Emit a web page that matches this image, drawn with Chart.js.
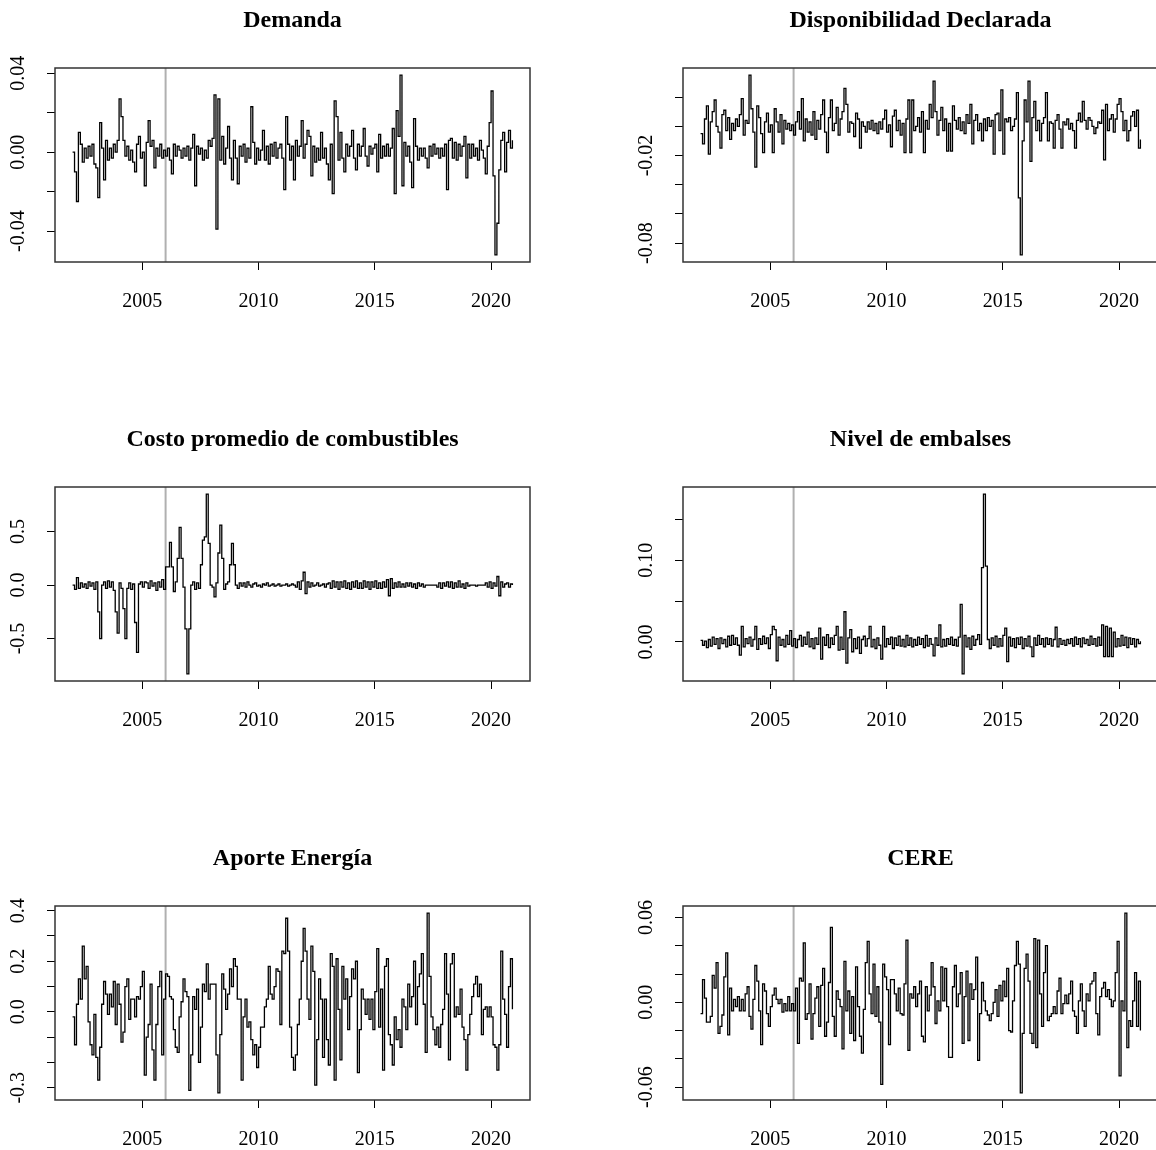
<!DOCTYPE html>
<html>
<head>
<meta charset="utf-8">
<script src="https://cdn.jsdelivr.net/npm/chart.js@4.4.1/dist/chart.umd.min.js"></script>
<style>
  html, body { margin: 0; padding: 0; background: #fff; overflow: hidden; }
  body { width: 1156px; height: 1150px; position: relative; }
  .panel { position: absolute; width: 585px; height: 419px; }
</style>
</head>
<body>
<div class="panel" style="left:0;top:0"><canvas id="demanda" width="585" height="419"></canvas></div>
<div class="panel" style="left:628px;top:0"><canvas id="disponibilidad" width="585" height="419"></canvas></div>
<div class="panel" style="left:0;top:419px"><canvas id="costo" width="585" height="419"></canvas></div>
<div class="panel" style="left:628px;top:419px"><canvas id="embalses" width="585" height="419"></canvas></div>
<div class="panel" style="left:0;top:838px"><canvas id="aporte" width="585" height="419"></canvas></div>
<div class="panel" style="left:628px;top:838px"><canvas id="cere" width="585" height="419"></canvas></div>
<script>
// monthly series, Jan 2002 - Dec 2020
var startYear = 2002;
var yearTicks = [2005, 2010, 2015, 2020];
var breakYear = 2006;

var demanda = [
    0.000, -0.010, -0.025, 0.010, 0.004, -0.005, 0.002, -0.003, 0.003, -0.002, 0.004, -0.006,
    -0.008, -0.023, 0.015, 0.002, -0.014, 0.006, -0.004, 0.002, -0.003, 0.004, 0.000, 0.006,
    0.027, 0.018, 0.006, -0.002, 0.003, -0.004, 0.001, -0.005, -0.010, 0.004, 0.008, -0.003,
    0.000, -0.017, 0.005, 0.016, 0.003, 0.006, -0.008, 0.002, -0.002, 0.004, -0.003, 0.001,
    -0.002, 0.002, -0.004, -0.011, 0.004, -0.002, 0.003, 0.001, -0.003, 0.002, -0.002, 0.003,
    -0.004, 0.002, 0.009, -0.017, 0.003, -0.001, 0.002, -0.004, 0.001, -0.003, 0.006, 0.003,
    0.007, 0.029, -0.039, 0.027, -0.004, 0.008, -0.006, 0.002, 0.013, -0.003, -0.014, 0.006,
    -0.003, -0.016, 0.003, -0.002, 0.004, -0.005, 0.002, -0.003, 0.023, 0.005, -0.006, 0.002,
    -0.004, 0.001, 0.011, -0.004, 0.003, -0.006, 0.004, -0.002, 0.005, -0.003, 0.002, 0.004,
    -0.003, -0.019, 0.018, 0.004, -0.004, 0.003, -0.014, 0.006, -0.002, 0.003, 0.016, -0.003,
    0.004, 0.011, 0.008, -0.012, 0.003, -0.005, 0.002, -0.004, 0.010, -0.003, 0.002, -0.006,
    -0.014, 0.004, -0.021, 0.026, 0.018, -0.004, 0.010, -0.003, -0.010, 0.004, -0.002, 0.003,
    0.011, -0.003, -0.009, 0.004, -0.002, 0.003, 0.012, -0.002, -0.007, 0.003, -0.001, 0.002,
    0.004, -0.010, 0.009, -0.003, 0.003, -0.002, 0.004, -0.002, 0.002, 0.012, -0.021, 0.021,
    0.008, 0.039, -0.017, 0.005, -0.002, 0.003, -0.005, -0.018, 0.017, 0.003, -0.004, 0.002,
    -0.002, 0.002, -0.003, -0.008, 0.003, -0.002, 0.004, -0.001, 0.002, -0.003, 0.002, -0.002,
    0.004, -0.019, 0.006, 0.007, -0.003, 0.005, -0.004, 0.004, -0.002, 0.003, 0.008, -0.013,
    0.004, -0.003, 0.004, -0.002, 0.002, -0.004, 0.006, 0.001, -0.003, -0.011, 0.003, 0.015,
    0.031, -0.012, -0.052, -0.036, -0.009, 0.006, 0.010, -0.010, 0.005, 0.011, 0.002, 0.006
];

var disponibilidad = [
    -0.005, -0.012, 0.005, 0.014, -0.019, 0.003, 0.010, 0.018, 0.000, -0.004, -0.015, 0.008,
    0.011, -0.003, 0.006, -0.009, 0.002, -0.003, 0.005, 0.000, 0.008, 0.019, -0.006, 0.004,
    0.002, 0.035, 0.012, -0.004, -0.028, 0.014, 0.006, -0.005, -0.018, 0.003, 0.009, -0.004,
    0.001, -0.018, 0.012, 0.003, -0.004, 0.008, -0.012, 0.004, -0.002, 0.002, -0.003, 0.001,
    -0.006, 0.003, 0.010, -0.002, 0.019, -0.010, 0.005, -0.004, 0.003, -0.006, 0.010, -0.009,
    0.004, -0.002, 0.008, 0.018, -0.004, -0.018, 0.006, 0.018, -0.003, 0.002, 0.013, -0.006,
    0.005, 0.010, 0.026, 0.015, -0.004, 0.003, 0.002, -0.007, 0.009, 0.005, -0.015, 0.003,
    0.000, -0.004, 0.003, -0.002, 0.004, -0.003, 0.002, -0.005, 0.003, -0.002, 0.005, 0.011,
    -0.004, 0.001, -0.014, 0.007, 0.011, -0.003, 0.004, -0.006, 0.002, -0.018, 0.005, 0.018,
    -0.018, 0.018, -0.003, 0.000, 0.006, -0.004, 0.010, -0.018, 0.004, -0.002, 0.015, 0.006,
    0.031, 0.010, -0.006, 0.004, 0.013, -0.003, 0.005, -0.017, 0.002, -0.017, 0.014, 0.004,
    -0.002, 0.006, -0.003, 0.003, -0.005, 0.008, 0.002, 0.015, -0.012, 0.004, 0.008, -0.003,
    0.002, -0.010, 0.005, -0.003, 0.006, 0.000, 0.004, -0.019, 0.008, 0.009, -0.003, 0.025,
    -0.019, 0.005, 0.003, 0.006, -0.003, 0.000, 0.005, 0.023, -0.049, -0.088, -0.010, 0.018,
    0.003, 0.031, -0.024, 0.006, 0.017, -0.003, 0.004, -0.010, 0.002, 0.006, 0.023, -0.010,
    0.003, 0.002, -0.015, 0.004, 0.008, -0.002, -0.015, 0.003, 0.001, 0.005, -0.002, 0.002,
    -0.003, -0.015, 0.004, 0.009, 0.003, 0.017, 0.004, -0.002, 0.006, 0.004, 0.000, -0.005,
    -0.001, 0.003, 0.002, 0.011, -0.023, 0.015, -0.003, 0.005, 0.008, -0.004, 0.005, 0.015,
    0.019, 0.010, -0.003, 0.004, -0.010, -0.003, 0.007, 0.010, 0.000, 0.011, -0.015, -0.009
];

var costoCombustibles = [
    0.00, -0.04, 0.07, -0.03, 0.02, -0.02, 0.01, -0.03, 0.03, -0.01, 0.02, -0.04,
    0.03, -0.25, -0.50, 0.00, 0.03, -0.03, 0.04, -0.02, 0.03, -0.05, -0.25, -0.45,
    0.02, -0.03, -0.22, -0.50, -0.03, 0.02, -0.04, 0.01, -0.35, -0.63, 0.01, 0.03,
    -0.02, 0.03, 0.02, -0.03, 0.04, -0.01, 0.02, -0.05, 0.03, -0.02, 0.05, -0.04,
    0.17, 0.17, 0.40, 0.17, -0.06, 0.03, 0.25, 0.54, 0.25, -0.02, -0.41, -0.83,
    -0.41, 0.00, 0.03, -0.04, 0.02, -0.03, 0.19, 0.42, 0.45, 0.85, 0.39, 0.00,
    -0.02, -0.11, 0.02, 0.30, 0.56, 0.25, -0.04, 0.01, 0.03, 0.19, 0.39, 0.19,
    0.00, -0.03, 0.02, -0.01, 0.02, -0.02, 0.03, 0.00, -0.02, 0.01, 0.02, -0.01,
    0.00, -0.02, 0.01, 0.00, 0.02, -0.01, 0.00, 0.01, -0.01, 0.00, 0.01, -0.01,
    0.00, 0.00, 0.01, -0.01, 0.00, 0.01, 0.00, -0.02, 0.03, -0.04, 0.04, 0.12,
    -0.08, 0.03, -0.02, 0.02, -0.01, 0.00, 0.02, -0.01, 0.00, 0.01, -0.02, 0.01,
    0.02, -0.03, 0.04, -0.02, 0.03, -0.04, 0.03, -0.02, 0.04, -0.03, 0.02, -0.04,
    0.03, -0.02, 0.04, -0.03, 0.02, -0.03, 0.04, -0.02, 0.03, -0.04, 0.03, -0.02,
    0.04, -0.03, 0.02, -0.03, 0.03, -0.02, 0.05, -0.10, 0.06, -0.03, 0.02, -0.02,
    0.03, -0.02, 0.01, -0.02, 0.02, -0.01, 0.02, -0.02, 0.01, -0.03, 0.02, -0.01,
    0.01, -0.02, 0.00, 0.00, 0.00, 0.00, 0.00, 0.00, -0.02, 0.02, -0.03, 0.02,
    -0.01, 0.03, -0.02, 0.03, -0.03, 0.02, -0.02, 0.04, -0.02, 0.01, -0.03, 0.02,
    -0.01, 0.00, 0.00, 0.00, -0.01, 0.00, 0.00, 0.00, 0.00, 0.02, -0.02, 0.03,
    -0.03, 0.02, -0.01, 0.08, -0.10, 0.03, -0.02, 0.01, 0.02, -0.02, 0.01, 0.00
];

var nivelEmbalses = [
    0.002, -0.004, 0.001, -0.007, 0.003, -0.005, 0.006, -0.003, 0.004, -0.008, 0.005, -0.002,
    0.003, -0.006, 0.007, -0.004, 0.008, -0.003, 0.005, -0.004, -0.016, 0.019, -0.006, 0.004,
    -0.002, 0.006, -0.005, 0.003, 0.019, -0.009, 0.004, -0.003, 0.007, -0.002, 0.005, -0.008,
    0.009, 0.019, 0.015, -0.023, 0.006, -0.004, 0.003, -0.006, 0.008, -0.003, 0.014, -0.005,
    0.004, -0.007, 0.003, 0.008, -0.005, 0.006, -0.003, 0.012, -0.006, 0.004, -0.008, 0.005,
    -0.003, 0.017, -0.021, 0.006, -0.004, 0.009, -0.007, 0.005, -0.003, 0.008, 0.019, -0.010,
    0.006, -0.009, 0.037, -0.026, 0.005, 0.015, -0.012, 0.004, -0.008, 0.006, -0.014, 0.003,
    0.007, -0.005, 0.004, 0.019, -0.006, 0.003, -0.008, 0.005, -0.004, -0.021, 0.019, -0.006,
    0.004, -0.003, 0.006, -0.008, 0.005, -0.004, 0.007, -0.005, 0.003, -0.006, 0.008, -0.004,
    0.005, -0.006, 0.003, -0.004, 0.006, -0.003, 0.004, -0.007, 0.008, -0.005, 0.004, -0.003,
    -0.017, 0.005, -0.004, 0.021, -0.006, 0.003, -0.005, 0.004, -0.003, 0.006, -0.004, 0.003,
    -0.005, 0.006, 0.046, -0.039, 0.008, -0.006, 0.005, -0.009, 0.007, -0.004, 0.003, 0.009,
    -0.003, 0.091, 0.181, 0.093, 0.003, -0.008, 0.005, -0.004, 0.007, -0.006, 0.004, -0.005,
    0.008, 0.017, -0.024, 0.006, -0.005, 0.004, -0.007, 0.005, -0.003, 0.006, -0.008, 0.004,
    -0.005, 0.007, -0.006, -0.018, 0.005, -0.004, 0.008, -0.003, 0.004, -0.006, 0.005, -0.003,
    0.004, -0.005, 0.003, 0.018, -0.006, 0.004, -0.003, 0.002, -0.004, 0.003, -0.002, 0.004,
    -0.005, 0.006, -0.003, 0.004, -0.006, 0.005, -0.002, 0.003, -0.004, 0.007, -0.003, 0.004,
    -0.005, 0.006, -0.004, 0.021, -0.018, 0.019, -0.018, 0.017, -0.018, 0.012, -0.006, 0.004,
    -0.005, 0.008, -0.004, 0.006, -0.007, 0.005, -0.003, 0.004, -0.006, 0.003, -0.002, 0.001
];

var aporteEnergia = [
    -0.02, -0.13, 0.03, 0.13, 0.05, 0.26, 0.13, 0.18, -0.04, -0.13, -0.17, -0.01,
    -0.18, -0.27, -0.14, 0.03, 0.12, 0.07, -0.01, 0.07, 0.02, 0.12, -0.05, 0.11,
    0.03, -0.12, -0.08, 0.10, 0.13, -0.03, 0.05, 0.05, -0.02, 0.06, 0.05, 0.10,
    0.16, -0.25, -0.10, -0.05, 0.11, -0.15, -0.27, -0.05, 0.10, 0.16, -0.17, 0.05,
    0.15, 0.14, 0.06, 0.05, -0.07, -0.14, -0.16, -0.02, 0.04, 0.13, 0.08, 0.06,
    -0.31, -0.17, 0.06, 0.01, 0.09, -0.20, -0.06, 0.11, 0.08, 0.19, 0.05, 0.11,
    0.11, 0.11, -0.17, -0.32, -0.09, 0.15, 0.09, 0.01, 0.07, 0.17, 0.10, 0.21,
    0.18, 0.05, 0.05, -0.27, -0.02, 0.05, -0.06, -0.04, -0.11, -0.17, -0.13, -0.22,
    -0.14, -0.06, -0.06, 0.02, 0.05, 0.18, 0.07, 0.05, 0.10, 0.17, 0.16, -0.05,
    0.24, 0.23, 0.37, 0.24, -0.06, -0.18, -0.23, -0.17, -0.05, 0.05, 0.20, 0.33,
    0.24, 0.05, -0.03, 0.26, 0.16, -0.29, -0.11, 0.13, 0.05, -0.18, 0.05, -0.11,
    -0.21, 0.23, 0.18, -0.27, 0.21, 0.01, -0.19, 0.18, 0.05, 0.13, -0.07, 0.06,
    0.17, 0.13, 0.20, -0.24, -0.07, 0.09, 0.05, -0.01, 0.05, -0.03, 0.05, -0.07,
    0.08, 0.25, -0.06, 0.09, -0.23, 0.18, 0.21, -0.09, -0.13, -0.21, -0.02, -0.11,
    -0.07, -0.14, 0.05, 0.02, -0.07, 0.11, 0.02, 0.06, 0.20, -0.05, 0.10, 0.15,
    0.23, 0.03, -0.16, 0.39, 0.14, -0.02, -0.07, -0.13, -0.06, -0.14, -0.05, 0.01,
    0.23, 0.07, -0.19, 0.19, 0.23, -0.02, 0.02, -0.01, 0.09, -0.06, -0.11, -0.23,
    -0.09, -0.01, 0.06, 0.11, 0.14, 0.06, 0.11, -0.09, 0.01, 0.02, -0.02, 0.02,
    -0.02, -0.13, -0.14, -0.23, -0.13, 0.24, 0.05, -0.01, -0.14, 0.10, 0.21, 0.01
];

var cere = [
    -0.008, 0.016, 0.003, -0.014, -0.014, -0.010, 0.019, 0.010, 0.028, -0.022, -0.017, -0.009,
    0.018, 0.035, -0.023, 0.010, -0.006, 0.002, -0.003, 0.004, -0.006, 0.002, -0.006, 0.006,
    0.011, -0.010, -0.019, 0.002, 0.026, 0.015, -0.006, -0.030, 0.013, 0.008, -0.008, -0.017,
    -0.003, 0.005, 0.010, 0.002, -0.001, 0.002, -0.007, -0.001, -0.006, 0.004, -0.006, -0.001,
    -0.006, 0.010, -0.029, 0.017, 0.015, 0.042, -0.012, -0.008, 0.013, -0.026, -0.008, 0.003,
    0.011, -0.017, 0.012, 0.024, -0.024, -0.014, 0.014, 0.053, -0.010, -0.024, 0.008, 0.002,
    -0.003, -0.033, 0.029, -0.006, 0.008, -0.022, 0.004, -0.027, 0.025, -0.003, -0.024, -0.036,
    -0.005, 0.028, 0.043, 0.006, -0.008, 0.027, -0.010, 0.011, -0.014, -0.058, 0.027, 0.018,
    0.009, -0.030, 0.016, 0.016, 0.006, -0.006, 0.010, -0.008, -0.009, 0.013, 0.044, -0.034,
    0.006, 0.003, 0.011, -0.003, 0.006, 0.015, -0.024, -0.028, 0.011, -0.006, 0.005, 0.028,
    0.011, -0.015, 0.001, -0.006, 0.025, 0.001, 0.024, -0.003, -0.039, -0.039, 0.011, 0.026,
    -0.003, 0.006, 0.021, -0.029, 0.004, 0.022, -0.027, 0.013, 0.002, 0.009, 0.032, -0.041,
    -0.008, 0.014, 0.001, -0.006, -0.009, -0.013, -0.008, 0.000, 0.009, -0.010, 0.012, 0.001,
    0.015, 0.004, 0.024, -0.020, -0.021, 0.001, 0.026, 0.043, 0.027, -0.064, -0.022, 0.024,
    0.034, 0.015, -0.022, -0.029, 0.045, -0.032, 0.044, 0.006, -0.017, 0.021, 0.040, -0.013,
    -0.010, -0.008, -0.003, -0.008, 0.008, 0.017, -0.008, -0.001, 0.005, -0.001, 0.006, 0.015,
    -0.006, -0.010, -0.022, 0.001, 0.013, -0.006, -0.017, 0.006, 0.001, 0.013, 0.015, 0.021,
    -0.008, -0.023, 0.004, 0.010, 0.014, 0.004, 0.009, 0.002, -0.003, 0.001, 0.021, 0.043,
    -0.052, 0.001, -0.006, 0.063, -0.032, -0.013, -0.017, 0.001, 0.021, -0.017, 0.015, -0.020
];

// y ticks and the labels R kept (empty = tick without label)
var demandaTicks = [-0.04, -0.02, 0, 0.02, 0.04];
var demandaLabels = ['-0.04', '', '0.00', '', '0.04'];
var disponibilidadTicks = [-0.08, -0.06, -0.04, -0.02, 0, 0.02];
var disponibilidadLabels = ['-0.08', '', '', '-0.02', '', ''];
var costoTicks = [-0.5, 0, 0.5];
var costoLabels = ['-0.5', '0.0', '0.5'];
var embalsesTicks = [0, 0.05, 0.10, 0.15];
var embalsesLabels = ['0.00', '', '0.10', ''];
var aporteTicks = [-0.3, -0.2, -0.1, 0, 0.1, 0.2, 0.3, 0.4];
var aporteLabels = ['-0.3', '', '', '0.0', '', '0.2', '', '0.4'];
var cereTicks = [-0.06, -0.04, -0.02, 0, 0.02, 0.04, 0.06];
var cereLabels = ['-0.06', '', '', '0.00', '', '', '0.06'];

var fontFamily = "'Liberation Serif', 'Times New Roman', serif";

// box around the plot, the grey 2006 line and the rotated y labels
var rFrame = {
    id: 'rFrame',
    beforeDatasetsDraw: function (chart) {
        var a = chart.chartArea, ctx = chart.ctx;
        var x = chart.scales.x.getPixelForValue(breakYear);
        ctx.save();
        ctx.strokeStyle = '#b0b0b0';
        ctx.lineWidth = 2;
        ctx.beginPath();
        ctx.moveTo(x, a.top);
        ctx.lineTo(x, a.bottom);
        ctx.stroke();
        ctx.restore();
    },
    afterDraw: function (chart, args, opts) {
        var a = chart.chartArea, ctx = chart.ctx, ys = chart.scales.y;
        ctx.save();
        ctx.strokeStyle = '#333';
        ctx.lineWidth = 1.5;
        ctx.strokeRect(a.left, a.top, a.right - a.left, a.bottom - a.top);
        ctx.fillStyle = '#000';
        ctx.font = '20px ' + fontFamily;
        ctx.textAlign = 'center';
        ctx.textBaseline = 'middle';
        opts.ticks.forEach(function (v, i) {
            if (!opts.labels[i]) return;
            ctx.save();
            ctx.translate(a.left - 36, ys.getPixelForValue(v));
            ctx.rotate(-Math.PI / 2);
            ctx.fillText(opts.labels[i], 0, 0);
            ctx.restore();
        });
        ctx.restore();
    }
};

function createPanel(id, title, values, yTicks, yLabels) {
    var points = values.map(function (v, i) {
        return { x: startYear + i / 12, y: v };
    });
    var lo = Math.min.apply(null, values), hi = Math.max.apply(null, values);
    var yPad = (hi - lo) * 0.04;
    var xLo = startYear, xHi = startYear + (values.length - 1) / 12;
    var xPad = (xHi - xLo) * 0.04;

    new Chart(document.getElementById(id), {
        type: 'line',
        data: {
            datasets: [{
                data: points,
                borderColor: '#000',
                borderWidth: 1.3,
                pointRadius: 0,
                stepped: true, // R type = "s"
                fill: false
            }]
        },
        options: {
            responsive: false,
            animation: false,
            devicePixelRatio: 1,
            layout: { padding: { left: 0, right: 55, top: 0, bottom: 0 } },
            plugins: {
                legend: { display: false },
                tooltip: { enabled: false },
                title: {
                    display: true,
                    text: title,
                    fullSize: false,
                    color: '#000',
                    font: { family: fontFamily, size: 24, weight: 'bold', lineHeight: 1.2 },
                    padding: { top: 6, bottom: 33.2 }
                },
                rFrame: { ticks: yTicks, labels: yLabels }
            },
            scales: {
                x: {
                    type: 'linear',
                    min: xLo - xPad,
                    max: xHi + xPad,
                    afterBuildTicks: function (axis) {
                        axis.ticks = yearTicks.map(function (v) { return { value: v }; });
                    },
                    afterFit: function (axis) { axis.height = 157; },
                    border: { display: false },
                    grid: { drawOnChartArea: false, tickLength: 8, color: '#000', lineWidth: 1 },
                    ticks: {
                        color: '#000',
                        font: { family: fontFamily, size: 20 },
                        padding: 20,
                        maxRotation: 0,
                        autoSkip: false,
                        callback: function (v) { return String(v); }
                    }
                },
                y: {
                    min: lo - yPad,
                    max: hi + yPad,
                    afterBuildTicks: function (axis) {
                        axis.ticks = yTicks.map(function (v) { return { value: v }; });
                    },
                    afterFit: function (axis) { axis.width = 55; },
                    border: { display: false },
                    grid: { drawOnChartArea: false, tickLength: 8, color: '#000', lineWidth: 1 },
                    ticks: { display: false }
                }
            }
        },
        plugins: [rFrame]
    });
}

createPanel('demanda', 'Demanda', demanda, demandaTicks, demandaLabels);
createPanel('disponibilidad', 'Disponibilidad Declarada', disponibilidad, disponibilidadTicks, disponibilidadLabels);
createPanel('costo', 'Costo promedio de combustibles', costoCombustibles, costoTicks, costoLabels);
createPanel('embalses', 'Nivel de embalses', nivelEmbalses, embalsesTicks, embalsesLabels);
createPanel('aporte', 'Aporte Energía', aporteEnergia, aporteTicks, aporteLabels);
createPanel('cere', 'CERE', cere, cereTicks, cereLabels);
</script>
</body>
</html>
